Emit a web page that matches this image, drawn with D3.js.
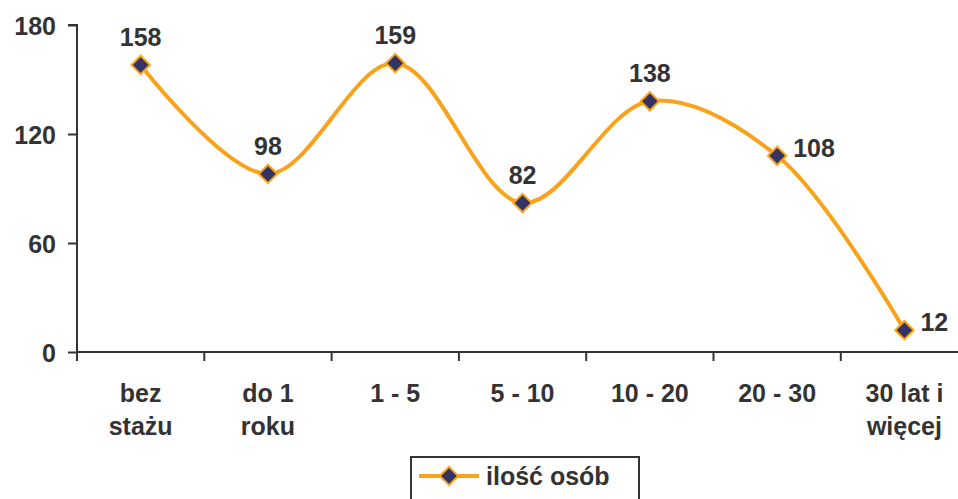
<!DOCTYPE html>
<html>
<head>
<meta charset="utf-8">
<script src="https://cdn.jsdelivr.net/npm/d3@7"></script>
<style>
body{margin:0;background:#fff;}
text{font-family:"Liberation Sans",Arial,sans-serif;font-weight:bold;fill:#333;}
</style>
</head>
<body>
<script>
// data
var categories = [["bez","stażu"],["do 1","roku"],["1 - 5"],["5 - 10"],["10 - 20"],["20 - 30"],["30 lat i","więcej"]];
var values = [158,98,159,82,138,108,12];
var yTicks = [0,60,120,180];
var seriesName = "ilość osób";

var width = 958, height = 499;
var margin = {left:77,top:25,bottom:147};
var plotW = 127.3*7;
var fs = "25px";

var svg = d3.select("body").append("svg").attr("width",width).attr("height",height);

var x = d3.scaleBand().domain(d3.range(categories.length)).range([margin.left, margin.left+plotW]);
var y = d3.scaleLinear().domain([0,180]).range([height-margin.bottom, margin.top]);

// y axis
var yAxis = d3.axisLeft(y).tickValues(yTicks).tickSize(9).tickPadding(12);
var gy = svg.append("g").attr("transform","translate("+margin.left+",0)").call(yAxis);
gy.selectAll("path,line").attr("stroke","#333").attr("stroke-width",2);
gy.select(".domain").attr("d","M-9,"+y(180)+"H0V"+y(0));
gy.selectAll("text").style("font-size",fs).attr("dy","0.36em");

// x axis with ticks on category boundaries
var gx = svg.append("g").attr("transform","translate(0,"+y(0)+")");
gx.append("line").attr("x1",margin.left).attr("x2",margin.left+plotW).attr("stroke","#333").attr("stroke-width",2);
gx.selectAll(".tk").data(d3.range(categories.length)).enter().append("line")
  .attr("x1",function(i){return x(i);}).attr("x2",function(i){return x(i);})
  .attr("y1",0).attr("y2",9).attr("stroke","#333").attr("stroke-width",2);
gx.selectAll(".lbl").data(categories).enter().append("text")
  .attr("text-anchor","middle").style("font-size",fs)
  .each(function(d,i){
    var t = d3.select(this);
    d.forEach(function(s,j){
      t.append("tspan").attr("x",x(i)+x.bandwidth()/2).attr("y",50+j*33).text(s);
    });
  });

// smoothed line
var cx = function(d,i){return x(i)+x.bandwidth()/2;};
var line = d3.line().x(cx).y(function(d){return y(d);}).curve(d3.curveCatmullRom.alpha(0.5));
svg.append("path").attr("d",line(values)).attr("fill","none")
  .attr("stroke","#F8A31B").attr("stroke-width",4);

svg.selectAll(".pt").data(values).enter().append("rect")
  .attr("x",-6.5).attr("y",-6.5).attr("width",13).attr("height",13)
  .attr("transform",function(d,i){return "translate("+cx(d,i)+","+y(d)+") rotate(45)";})
  .attr("fill","#333366").attr("stroke","#F8A31B").attr("stroke-width",2);

// value labels: last two sit to the right of the point
svg.selectAll(".vl").data(values).enter().append("text")
  .style("font-size",fs)
  .attr("text-anchor",function(d,i){return i>=5?"start":"middle";})
  .attr("x",function(d,i){return i>=5?cx(d,i)+16:cx(d,i);})
  .attr("y",function(d,i){return i>=5?y(d)+1:y(d)-19;})
  .text(function(d){return d;});

// legend (bottom edge falls outside the picture)
var lg = svg.append("g").attr("transform","translate(411,457)");
lg.append("rect").attr("width",228).attr("height",60).attr("fill","none").attr("stroke","#333").attr("stroke-width",2);
lg.append("line").attr("x1",8).attr("x2",68).attr("y1",19).attr("y2",19).attr("stroke","#F8A31B").attr("stroke-width",4);
lg.append("rect").attr("x",-6.5).attr("y",-6.5).attr("width",13).attr("height",13)
  .attr("transform","translate(38,19) rotate(45)")
  .attr("fill","#333366").attr("stroke","#F8A31B").attr("stroke-width",2);
lg.append("text").attr("x",75).attr("y",28).style("font-size",fs).text(seriesName);
</script>
</body>
</html>
